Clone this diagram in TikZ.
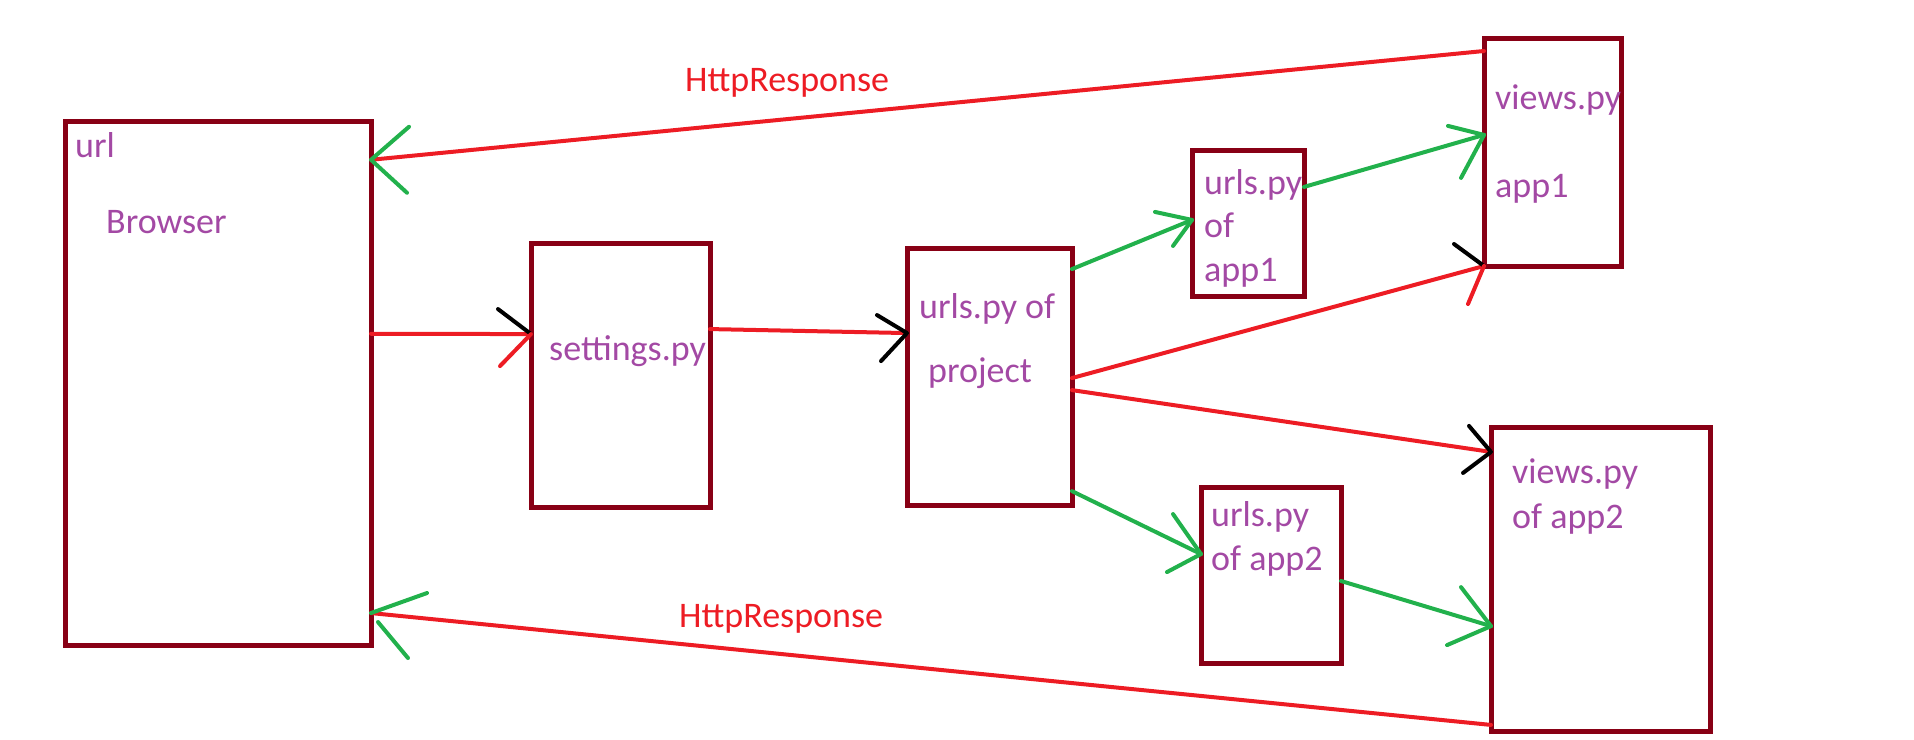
\documentclass[tikz,border=0pt]{standalone}
\usepackage{fontspec}
\setmainfont{Carlito}
\usetikzlibrary{calc}

\definecolor{boxred}{HTML}{880015}
\definecolor{txtpurple}{HTML}{A349A4}
\definecolor{linered}{HTML}{ED1C24}
\definecolor{linegreen}{HTML}{22B14C}

\begin{document}
\begin{tikzpicture}[
x=1pt, y=-1pt,
    BX/.style 2 args = {
        draw=boxred, line width=5pt,
        inner sep=0pt, outer sep=0pt, anchor=north west,
        minimum width=#1, minimum height=#2
                  },
    TX/.style = {text=txtpurple, font=\fontsize{36}{43}\selectfont,
                 anchor=base west, inner sep=0pt},
    RL/.style = {draw=linered, line width=4pt, line cap=round},
    GL/.style = {draw=linegreen, line width=4pt, line cap=round},
    KL/.style = {draw=black, line width=4pt, line cap=round},
                        ]
\useasboundingbox (0,0) rectangle (1914,739);
% boxes
\node[BX={306pt}{524pt}] (browser)  at (65,121)   {};
\node[BX={179pt}{264pt}] (settings) at (531,243)  {};
\node[BX={165pt}{257pt}] (proj)     at (907,248)  {};
\node[BX={112pt}{146pt}] (urlsA)    at (1192,150) {};
\node[BX={137pt}{228pt}] (viewsA)   at (1484,38)  {};
\node[BX={140pt}{176pt}] (urlsB)    at (1201,487) {};
\node[BX={219pt}{304pt}] (viewsB)   at (1491,427) {};
% responses
\draw[RL]   ($(viewsA.north west)!0.057!(viewsA.south west)$) --
            ($(browser.north east)!0.074!(browser.south east)$) coordinate (tA);
\draw[GL]   (tA) -- ++(38,-33)  (tA) -- ++(36,33);
\draw[RL]   ($(viewsB.north west)!0.980!(viewsB.south west)$) --
            ($(browser.north east)!0.939!(browser.south east)$) coordinate (tJ);
\draw[GL]   (tJ) -- ++(56,-20)  (tJ) ++(7,9) -- ++(30,36);
% requests
\draw[RL]   ($(browser.north east)!0.406!(browser.south east)$) --
            ($(settings.north west)!0.345!(settings.south west)$) coordinate (tB);
\draw[KL]   (tB) -- ++(-33,-25);
\draw[RL]   (tB) -- ++(-31,32);
\draw[RL]   ($(settings.north east)!0.326!(settings.south east)$) --
            ($(proj.north west)!0.331!(proj.south west)$) coordinate (tC);
\draw[KL]   (tC) -- ++(-30,-18)  (tC) -- ++(-26,28);
\draw[GL]   ($(proj.north east)!0.082!(proj.south east)$) --
            ($(urlsA.north west)!0.479!(urlsA.south west)$) coordinate (tD);
\draw[GL]   (tD) -- ++(-37,-8)  (tD) -- ++(-19,26);
\draw[GL]   ($(urlsA.north east)!0.253!(urlsA.south east)$) --
            ($(viewsA.north west)!0.425!(viewsA.south west)$) coordinate (tE);
\draw[GL]   (tE) -- ++(-36,-9)  (tE) -- ++(-23,43);
\draw[RL]   ($(proj.north east)!0.506!(proj.south east)$) --
            (viewsA.south west) coordinate (tF);
\draw[KL]   (tF) -- ++(-30,-22);
\draw[RL]   (tF) -- ++(-16,38);
\draw[RL]   ($(proj.north east)!0.553!(proj.south east)$) --
            ($(viewsB.north west)!0.082!(viewsB.south west)$) coordinate (tG);
\draw[KL]   (tG) -- ++(-22,-26)  (tG) -- ++(-28,21);
\draw[GL]   ($(proj.north east)!0.946!(proj.south east)$) --
            ($(urlsB.north west)!0.381!(urlsB.south west)$) coordinate (tH);
\draw[GL]   (tH) -- ++(-28,-40)  (tH) -- ++(-34,18);
\draw[GL]   ($(urlsB.north east)!0.534!(urlsB.south east)$) --
            ($(viewsB.north west)!0.655!(viewsB.south west)$) coordinate (tI);
\draw[GL]   (tI) -- ++(-30,-39)  (tI) -- ++(-44,19);
% labels
\node[TX] (url)    at (75,157)   {url};
\node[TX] (brw)    at (106,233)  {Browser};
\node[TX] (stt)    at (549,360)  {settings.py};
\node[TX] (prjA)   at (919,318)  {urls.py of};
\node[TX] (prjB)   at (928,382)  {project};
\node[TX] (uaA)    at (1204,194) {urls.py};
\node[TX] (uaB)    at (1204,237) {of};
\node[TX] (uaC)    at (1204,281) {app1};
\node[TX] (vaA)    at (1495,109) {views.py};
\node[TX] (vaB)    at (1495,197) {app1};
\node[TX] (ubA)    at (1211,526) {urls.py};
\node[TX] (ubB)    at (1211,570) {of app2};
\node[TX] (vbA)    at (1512,483) {views.py};
\node[TX] (vbB)    at (1512,528) {of app2};
\node[TX, text=linered] (rspA) at (685,91)  {HttpResponse};
\node[TX, text=linered] (rspB) at (679,627) {HttpResponse};
\end{tikzpicture}
\end{document}
